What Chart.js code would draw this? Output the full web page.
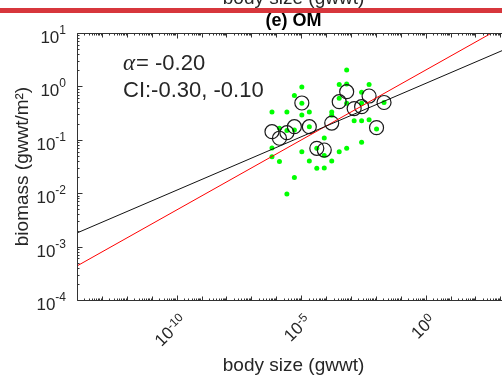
<!DOCTYPE html>
<html><head><meta charset="utf-8">
<script src="https://cdn.jsdelivr.net/npm/chart.js@4"></script>
<style>html,body{margin:0;padding:0;overflow:hidden;background:#fff}#wrap{width:502px;height:383px;overflow:hidden}</style>
</head><body><div id="wrap"><canvas id="c" width="520" height="383"></canvas></div>
<script>
// ---- data ----
const sizeBins = [6.76e-7, 1.35e-6, 2.69e-6, 5.37e-6, 1.07e-5, 2.14e-5, 4.27e-5, 8.51e-5, 1.70e-4, 3.39e-4, 6.76e-4, 1.35e-3, 2.69e-3, 5.37e-3, 1.07e-2, 2.14e-2];
const binMeanBiomass = [0.142, 0.107, 0.136, 0.176, 0.489, 0.176, 0.0693, 0.0644, 0.206, 0.517, 0.796, 0.385, 0.417, 0.661, 0.169, 0.500];
const sampleBin = [0,0,0, 1,1, 2,2,2, 3,3,3, 4,4,4,4, 5,5,5, 6,6, 7,7,7, 8,8,8, 9,9,9, 10,10,10,10, 11, 12,12,12,12, 13,13, 14, 15];
const sampleBiomass = [0.332,0.0702,0.0483, 0.164,0.0393, 0.332,0.149,0.00966, 0.676,0.153,0.0197, 0.975,0.483,0.291,0.0598, 0.332,0.176,0.0401, 0.0693,0.0292, 0.108,0.0508,0.0296, 0.332,0.287,0.040, 1.09,0.598,0.0598, 2.03,1.11,0.483,0.0693, 0.228, 0.776,0.483,0.228,0.0897, 1.09,0.238, 0.159, 0.500];
const fitSize = [1e-14, 2450];
const fitBlack = [1.80e-3, 5.41];
const fitRed = [4.34e-4, 15.6];
const xTickValues = [1e-10, 1e-5, 1];
const xTickExponents = ['-10', '-5', '0'];
const yTickValues = [1e-4, 1e-3, 1e-2, 1e-1, 1, 10];
const yTickExponents = ['-4', '-3', '-2', '-1', '0', '1'];
const alphaText = '= -0.20';
const ciText = 'CI:-0.30, -0.10';
const titleText = '(e) OM';
const xTitle = 'body size (gwwt)';
const yTitle = 'biomass (gwwt/m\u00B2)';

const FONT = '"Liberation Sans", Arial, "DejaVu Sans", sans-serif';
const INK = '#262626';
const BASE_PX = 17, SUP_PX = 12;

function powerLabel(ctx, exp) {
  ctx.font = BASE_PX + 'px ' + FONT;
  const wb = ctx.measureText('10').width;
  ctx.font = SUP_PX + 'px ' + FONT;
  const ws = ctx.measureText(exp).width;
  return {wb, ws};
}
// draws "10^exp" so that the right end of the superscript is at (0,0) in the current frame
function drawPower(ctx, exp, baseDy, supDy) {
  const {wb, ws} = powerLabel(ctx, exp);
  ctx.textAlign = 'left';
  ctx.textBaseline = 'alphabetic';
  ctx.font = BASE_PX + 'px ' + FONT;
  ctx.fillText('10', -ws - wb, baseDy);
  ctx.font = SUP_PX + 'px ' + FONT;
  ctx.fillText(exp, -ws, supDy);
}

const decorPlugin = {
  id: 'decor',
  afterDraw(chart) {
    const {ctx, chartArea: a, scales: {x, y}} = chart;
    const W = chart.width;
    ctx.save();
    // cut-off label of the panel above and red separator
    ctx.fillStyle = INK;
    ctx.font = '19px ' + FONT;
    ctx.textAlign = 'center';
    ctx.textBaseline = 'alphabetic';
    ctx.fillText(xTitle, (a.left + a.right) / 2, 4);
    ctx.fillStyle = '#d7363c';
    ctx.fillRect(0, 8, W, 5);

    // frame
    ctx.strokeStyle = '#333';
    ctx.lineWidth = 1;
    const L = Math.round(a.left) + 0.5, T = Math.round(a.top) + 0.5, B = Math.round(a.bottom) + 0.5;
    ctx.beginPath();
    ctx.moveTo(W, T); ctx.lineTo(L, T); ctx.lineTo(L, B); ctx.lineTo(W, B);
    ctx.stroke();

    // ticks (inside, MATLAB style)
    ctx.beginPath();
    for (let d = -14; d <= 3; d++) {
      for (let m = 1; m <= 9; m++) {
        const v = m * Math.pow(10, d);
        if (v < x.min || v > x.max) continue;
        const px = Math.round(x.getPixelForValue(v)) + 0.5;
        const len = xTickValues.includes(v) ? 5 : (m === 1 ? 4 : 2);
        ctx.moveTo(px, B); ctx.lineTo(px, B - len);
        ctx.moveTo(px, T); ctx.lineTo(px, T + len);
      }
    }
    for (let d = -4; d <= 1; d++) {
      for (let m = 1; m <= 9; m++) {
        const v = m * Math.pow(10, d);
        if (v < y.min * 0.999 || v > y.max * 1.001) continue;
        const py = Math.round(y.getPixelForValue(v)) + 0.5;
        const len = m === 1 ? 5 : 2;
        ctx.moveTo(L, py); ctx.lineTo(L + len, py);
      }
    }
    ctx.stroke();

    // tick labels
    ctx.fillStyle = INK;
    yTickValues.forEach((v, i) => {
      const py = y.getPixelForValue(v);
      ctx.save();
      ctx.translate(a.left - 11, py);
      drawPower(ctx, yTickExponents[i], 10, 1);
      ctx.restore();
    });
    xTickValues.forEach((v, i) => {
      const px = x.getPixelForValue(v);
      ctx.save();
      ctx.translate(px + 7, a.bottom + 18);
      ctx.rotate(-Math.PI / 4);
      drawPower(ctx, xTickExponents[i], 5, 0);
      ctx.restore();
    });

    // annotation text
    ctx.fillStyle = INK;
    ctx.textAlign = 'left';
    ctx.textBaseline = 'alphabetic';
    const tx = a.left + 46;
    ctx.font = 'italic 23px "Liberation Serif", "DejaVu Serif", serif';
    ctx.fillText('\u03B1', tx, a.top + 37);
    const w = ctx.measureText('\u03B1').width;
    ctx.font = '22px ' + FONT;
    ctx.fillText(alphaText, tx + w + 1, a.top + 37);
    ctx.fillText(ciText, tx, a.top + 64);
    ctx.restore();
  }
};

const dots = sampleBin.map((b, i) => ({x: sizeBins[b], y: sampleBiomass[i]}));
const means = sizeBins.map((s, i) => ({x: s, y: binMeanBiomass[i]}));

new Chart(document.getElementById('c'), {
  type: 'scatter',
  data: {
    datasets: [
      {type: 'line', data: fitSize.map((s, i) => ({x: s, y: fitBlack[i]})), borderColor: '#111', borderWidth: 1, pointRadius: 0, fill: false, order: 0},
      {type: 'line', data: fitSize.map((s, i) => ({x: s, y: fitRed[i]})), borderColor: '#ff0000', borderWidth: 1, pointRadius: 0, fill: false, order: 0},
      {data: means, pointRadius: 7, pointBackgroundColor: 'rgba(0,0,0,0)', pointBorderColor: '#1a1a1a', pointBorderWidth: 1.2, order: 1},
      {data: dots, pointRadius: 2.5, pointBackgroundColor: '#00ff00', pointBorderWidth: 0, order: 2}
    ]
  },
  options: {
    responsive: false,
    animation: false,
    devicePixelRatio: 1,
    layout: {padding: {left: 0, right: 10, top: 0, bottom: 0}},
    plugins: {
      legend: {display: false},
      tooltip: {enabled: false},
      title: {display: true, text: titleText, fullSize: false, color: '#000',
              font: {family: FONT, size: 18, weight: 'bold'}, padding: {top: 10, bottom: 1.4}}
    },
    scales: {
      x: {
        type: 'logarithmic', position: 'bottom', min: 1e-14, max: fitSize[1],
        grid: {display: false, drawTicks: false}, border: {display: false},
        afterBuildTicks: s => { s.ticks = xTickValues.map(v => ({value: v})); },
        afterFit: s => { s.height = 83; },
        ticks: {display: false, autoSkip: false},
        title: {display: true, text: xTitle, color: INK, font: {family: FONT, size: 19}, padding: {top: 0, bottom: 6}}
      },
      y: {
        type: 'logarithmic', position: 'left', min: 1e-4, max: 10,
        grid: {display: false, drawTicks: false}, border: {display: false},
        afterBuildTicks: s => { s.ticks = yTickValues.map(v => ({value: v})); },
        afterFit: s => { s.width = 77; },
        ticks: {display: false, autoSkip: false},
        title: {display: true, text: yTitle, color: INK, font: {family: FONT, size: 19}, padding: {top: 11, bottom: 0}}
      }
    }
  },
  plugins: [decorPlugin]
});
</script></body></html>
